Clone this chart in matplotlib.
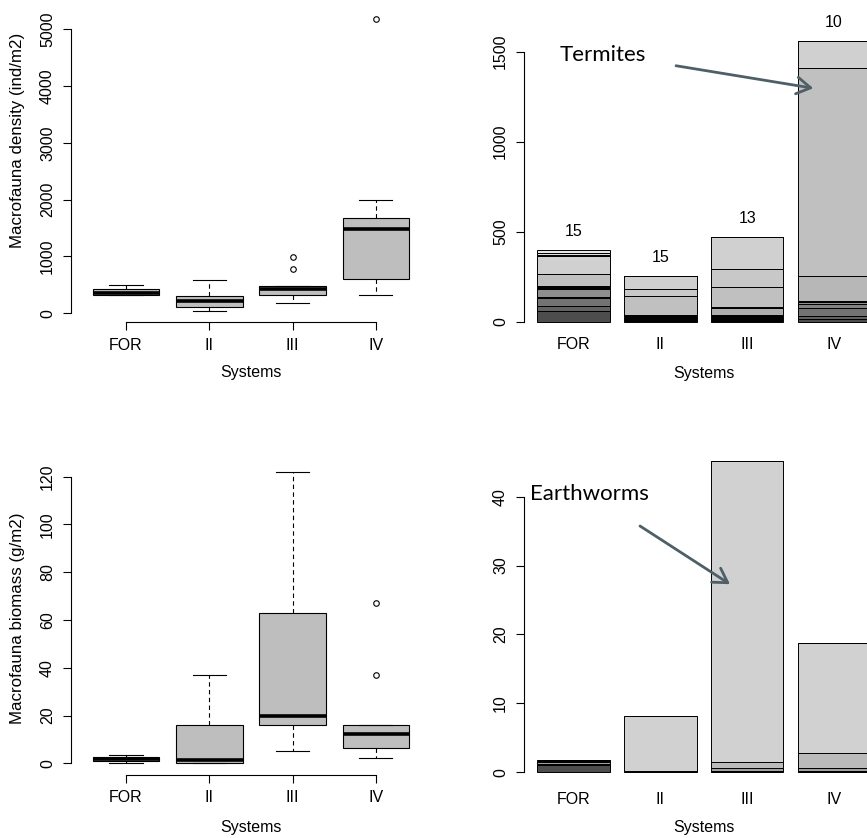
import numpy as np
import matplotlib
matplotlib.use("Agg")
import matplotlib.pyplot as plt

plt.rcParams['font.family'] = 'Liberation Sans'
plt.rcParams['font.size'] = 11.5

systems = ['FOR', 'II', 'III', 'IV']

# boxplot stats, density (ind/m2)
dens_med = [352, 217, 423, 1485]
dens_q1 = [323, 106, 329, 605]
dens_q3 = [423, 311, 481, 1673]
dens_lo = [318, 47, 188, 317]
dens_hi = [505, 587, 485, 1996]
dens_out = [[], [], [992, 781], [5189]]

# boxplot stats, biomass (g/m2)
bio_med = [1.7, 1.26, 20.0, 12.1]
bio_q1 = [0.84, 0.3, 15.9, 6.4]
bio_q3 = [2.5, 15.9, 63.1, 15.9]
bio_lo = [0.0, 0.0, 5.0, 2.2]
bio_hi = [3.35, 36.8, 121.8, 15.9]
bio_out = [[], [], [], [67.1, 37.1]]

# stacked density per taxon (bottom -> top), one list per system
sd_for = [59, 28, 43, 5, 45, 5, 8, 5, 0, 65, 4, 100, 5, 12, 15]
sd_ii = [5, 5, 5, 5, 5, 5, 5, 2, 0, 104, 42, 70, 1, 0, 1]
sd_iii = [5, 5, 5, 8, 5, 5, 4, 41, 3, 109, 104, 176, 0, 0, 3]
sd_iv = [13, 18, 43, 22, 15, 3, 3, 0, 137, 1157, 0, 148, 0, 0, 3]
ntaxa = [15, 15, 13, 10]

# stacked biomass per group (bottom -> top)
sb_for = [1.05, 0.2, 0.2, 0.2, 0.15, 0.05]
sb_ii = [0.05, 0.05, 0.05, 0.1, 7.9, 0.05]
sb_iii = [0.1, 0.1, 0.38, 0.97, 43.6, 0.05]
sb_iv = [0.1, 0.15, 0.33, 2.27, 15.9, 0.05]

W, H = 867, 838
fig = plt.figure(figsize=(8.67, 8.38), dpi=100)


def place(left, right, zero, scale, ylim):
    bot = zero - ylim[0] * scale
    top = zero - ylim[1] * scale
    ax = fig.add_axes([left / W, 1 - bot / H, (right - left) / W, (bot - top) / H])
    ax.set_ylim(ylim)
    return ax


def at(ax, x, y):
    return ax.transAxes.inverted().transform((x, H - y))


def grays(n):
    v = np.linspace(0.3 ** 2.2, 0.9 ** 2.2, n) ** (1 / 2.2)
    return [(g, g, g) for g in v]


def rlim(lo, hi):
    r = hi - lo
    return (lo - 0.04 * r, hi + 0.04 * r)


def style_y(ax, ticks):
    for s in ['top', 'right']:
        ax.spines[s].set_visible(False)
    ax.spines['left'].set_bounds(ticks[0], ticks[-1])
    ax.spines['left'].set_linewidth(0.8)
    ax.set_yticks(ticks)
    ax.set_yticklabels([str(t) for t in ticks], rotation=90, va='center')
    ax.tick_params(axis='y', direction='out', length=5.5, width=0.8, pad=6)


def boxpanel(ax, med, q1, q3, lo, hi, out, ticks, ylab, ylab_y, xlab_y):
    stats = [dict(med=med[i], q1=q1[i], q3=q3[i], whislo=lo[i], whishi=hi[i], fliers=out[i])
             for i in range(4)]
    ax.bxp(stats, positions=[1, 2, 3, 4], widths=0.8, capwidths=0.4, patch_artist=True,
           boxprops=dict(facecolor='#bebebe', edgecolor='black', linewidth=0.8),
           medianprops=dict(color='black', linewidth=2.6, solid_capstyle='butt'),
           whiskerprops=dict(color='black', linewidth=0.8, linestyle=(0, (4, 3))),
           capprops=dict(color='black', linewidth=0.8),
           flierprops=dict(marker='o', markersize=4, markerfacecolor='none',
                           markeredgecolor='black', markeredgewidth=0.8))
    ax.set_xlim(0.34, 4.66)
    style_y(ax, ticks)
    ax.spines['bottom'].set_bounds(1, 4)
    ax.spines['bottom'].set_linewidth(0.8)
    ax.set_xticks([1, 2, 3, 4])
    ax.set_xticklabels(systems)
    ax.tick_params(axis='x', direction='out', length=5.5, width=0.8, pad=5.5)
    ax.set_xlabel('Systems', va='center')
    ax.xaxis.set_label_coords(*at(ax, 251, xlab_y))
    ax.set_ylabel(ylab, va='center', fontsize=12.2)
    ax.yaxis.set_label_coords(*at(ax, 18, ylab_y))


def barpanel(ax, cols, ticks, xlab_y):
    data = np.array(cols).T
    centers = np.arange(4) * 1.2 + 0.7
    pal = grays(data.shape[0])
    bottom = np.zeros(4)
    for k in range(data.shape[0]):
        ax.bar(centers, data[k], width=1, bottom=bottom, color=pal[k],
               edgecolor='black', linewidth=0.7)
        bottom += data[k]
    ax.set_xlim(0.016, 4.984)
    style_y(ax, ticks)
    ax.spines['bottom'].set_visible(False)
    ax.set_xticks(centers)
    ax.set_xticklabels(systems)
    ax.tick_params(axis='x', length=0, pad=4)
    ax.set_xlabel('Systems', va='center')
    ax.xaxis.set_label_coords(*at(ax, 704, xlab_y))
    return centers, bottom


# top left: density boxplot
ylim = rlim(min(dens_lo), max(max(dens_hi), 5189))
ax1 = place(71, 430.8, 313.3, 0.0568, ylim)
boxpanel(ax1, dens_med, dens_q1, dens_q3, dens_lo, dens_hi, dens_out,
         [0, 1000, 2000, 3000, 4000, 5000], 'Macrofauna density (ind/m2)', 140, 372)

# bottom left: biomass boxplot
ylim = rlim(min(bio_lo), max(bio_hi))
ax3 = place(71, 430.8, 763.3, 2.389, ylim)
boxpanel(ax3, bio_med, bio_q1, bio_q3, bio_lo, bio_hi, bio_out,
         [0, 20, 40, 60, 80, 100, 120], 'Macrofauna biomass (g/m2)', 618, 827)

# top right: stacked density
tot = np.array(sd_iv).sum()
ax2 = place(524, 883.5, 321.7, 0.18, (-0.04 * tot, 1.04 * tot))
centers, totals = barpanel(ax2, [sd_for, sd_ii, sd_iii, sd_iv], [0, 500, 1000, 1500], 373)
ax2.tick_params(axis='x', pad=3)
for c, t, n in zip(centers, totals, ntaxa):
    ax2.text(c, t + 100, str(n), ha='center', va='center')
ax2.text(0.513, 1450, 'Termites', fontfamily='Lato', fontsize=16, ha='left', va='baseline')
ax2.annotate('', xy=(4.014, 1297), xytext=(2.117, 1422),
             arrowprops=dict(arrowstyle='->,head_length=0.5,head_width=0.3', color='#4e5f68',
                             lw=2, mutation_scale=20, shrinkA=0, shrinkB=0))

# bottom right: stacked biomass
tot = np.array(sb_iii).sum()
ax4 = place(524, 883.5, 772.3, 6.89, (-0.04 * tot, 1.04 * tot))
barpanel(ax4, [sb_for, sb_ii, sb_iii, sb_iv], [0, 10, 20, 30, 40], 827)
ax4.tick_params(axis='x', pad=5)
ax4.text(0.099, 39.5, 'Earthworms', fontfamily='Lato', fontsize=16, ha='left', va='baseline')
ax4.annotate('', xy=(2.863, 27.3), xytext=(1.619, 35.75),
             arrowprops=dict(arrowstyle='->,head_length=0.5,head_width=0.3', color='#4e5f68',
                             lw=2, mutation_scale=20, shrinkA=0, shrinkB=0))

fig.savefig('out.png', dpi=100)
